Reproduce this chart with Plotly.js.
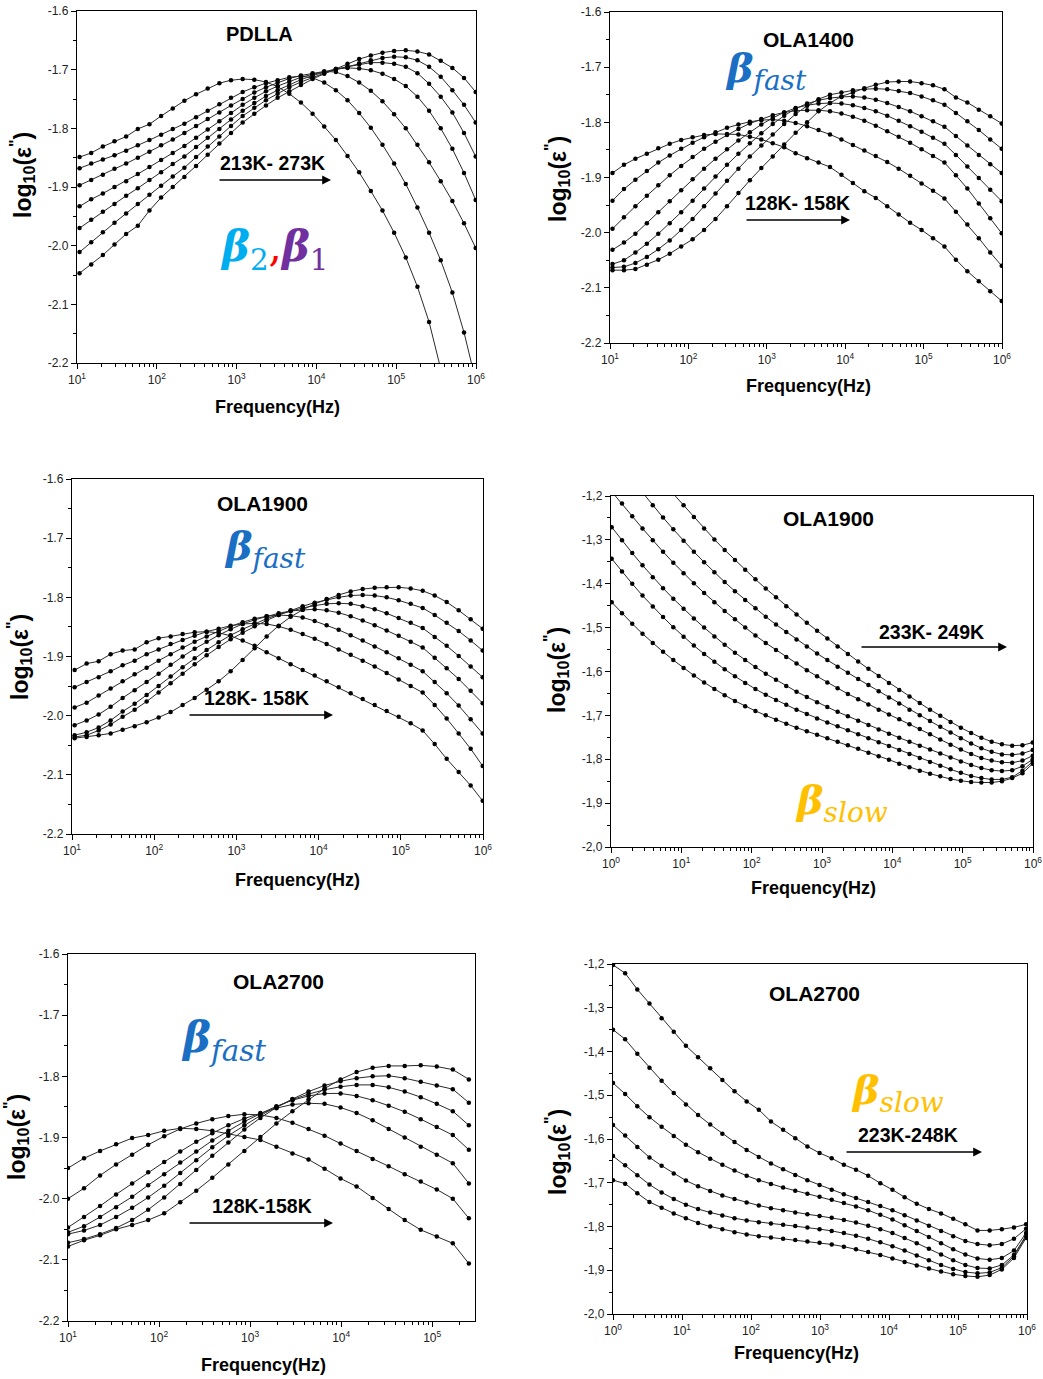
<!DOCTYPE html>
<html><head><meta charset="utf-8">
<script src="https://cdn.plot.ly/plotly-3.0.1.min.js"></script>
<style>html,body{margin:0;padding:0;background:#fff;}#chart{width:1043px;height:1379px;}</style>
</head><body><div id="chart"></div>
<script>
// ---------- frequencies (Hz) ----------
const freqA = [10.76,15.07,21.09,29.51,41.30,57.81,80.91,113.2,158.5,221.8,310.5,434.5,608.1,851.1,1191,1667,2333,3266,4571,6397,8954,12531,17539,24547,34356,48084,67298,94189,131826,184502,258226,361410,505825,707946,990832];
const freqB = [1.023,1.432,2.004,2.805,3.926,5.495,7.691,10.76,15.07,21.09,29.51,41.30,57.81,80.91,113.2,158.5,221.8,310.5,434.5,608.1,851.1,1191,1667,2333,3266,4571,6397,8954,12531,17539,24547,34356,48084,67298,94189,131826,184502,258226,361410,505825,707946,990832];
const freqC = [10,15,22.5,33.75,50.63,75.94,113.9,170.9,256.3,384.4,576.7,865,1297.5,1946,2919,4379,6568,9853,14780,22170,33250,49880,74820,112200,168300,252500];
const freqD = [1,1.5,2.25,3.375,5.063,7.594,11.39,17.09,25.63,38.44,57.67,86.5,129.7,194.6,291.9,437.9,656.8,985.3,1478,2217,3325,4988,7482,11223,16834,25251,37877,56815,85223,127834,191751,287627,431440,647160,970740];

// ---------- PDLLA (213K - 273K) ----------
const pdlla_213 = [-1.849,-1.842,-1.831,-1.822,-1.814,-1.801,-1.793,-1.779,-1.766,-1.753,-1.742,-1.732,-1.723,-1.718,-1.716,-1.717,-1.721,-1.729,-1.741,-1.756,-1.775,-1.797,-1.820,-1.847,-1.875,-1.907,-1.940,-1.978,-2.020,-2.070,-2.130,-2.210];
const pdlla_223 = [-1.868,-1.860,-1.853,-1.846,-1.838,-1.829,-1.820,-1.811,-1.801,-1.792,-1.781,-1.770,-1.759,-1.748,-1.738,-1.730,-1.723,-1.718,-1.713,-1.711,-1.714,-1.722,-1.735,-1.752,-1.774,-1.799,-1.828,-1.860,-1.895,-1.935,-1.978,-2.025,-2.080,-2.148,-2.230];
const pdlla_233 = [-1.897,-1.888,-1.879,-1.869,-1.860,-1.850,-1.840,-1.829,-1.819,-1.808,-1.796,-1.784,-1.773,-1.761,-1.750,-1.739,-1.730,-1.722,-1.715,-1.710,-1.706,-1.703,-1.704,-1.711,-1.722,-1.736,-1.754,-1.776,-1.800,-1.828,-1.858,-1.890,-1.924,-1.962,-2.004];
const pdlla_243 = [-1.933,-1.921,-1.911,-1.900,-1.890,-1.878,-1.866,-1.854,-1.842,-1.830,-1.816,-1.802,-1.788,-1.774,-1.760,-1.748,-1.737,-1.728,-1.720,-1.713,-1.708,-1.703,-1.699,-1.697,-1.698,-1.701,-1.707,-1.716,-1.728,-1.746,-1.770,-1.800,-1.835,-1.876,-1.922];
const pdlla_253 = [-1.970,-1.956,-1.942,-1.929,-1.915,-1.902,-1.888,-1.875,-1.861,-1.848,-1.832,-1.816,-1.801,-1.785,-1.770,-1.757,-1.745,-1.735,-1.726,-1.717,-1.710,-1.704,-1.699,-1.695,-1.691,-1.688,-1.688,-1.690,-1.695,-1.706,-1.724,-1.746,-1.773,-1.808,-1.848];
const pdlla_263 = [-2.011,-1.994,-1.977,-1.961,-1.945,-1.929,-1.913,-1.898,-1.882,-1.867,-1.849,-1.831,-1.814,-1.796,-1.779,-1.765,-1.752,-1.741,-1.730,-1.721,-1.713,-1.706,-1.700,-1.695,-1.689,-1.684,-1.680,-1.678,-1.679,-1.684,-1.695,-1.712,-1.735,-1.760,-1.790];
const pdlla_273 = [-2.047,-2.032,-2.016,-1.998,-1.980,-1.966,-1.940,-1.918,-1.900,-1.883,-1.864,-1.845,-1.826,-1.808,-1.790,-1.775,-1.761,-1.748,-1.737,-1.726,-1.716,-1.707,-1.699,-1.690,-1.682,-1.676,-1.671,-1.668,-1.667,-1.669,-1.674,-1.685,-1.697,-1.714,-1.738];

// ---------- OLA1400 fast (128K - 158K) ----------
const ola1400_128 = [-1.892,-1.877,-1.866,-1.857,-1.847,-1.839,-1.832,-1.827,-1.823,-1.821,-1.821,-1.822,-1.826,-1.831,-1.838,-1.845,-1.856,-1.865,-1.873,-1.881,-1.895,-1.910,-1.925,-1.937,-1.952,-1.967,-1.982,-1.995,-2.010,-2.025,-2.049,-2.070,-2.088,-2.106,-2.124];
const ola1400_133 = [-1.942,-1.921,-1.904,-1.888,-1.873,-1.860,-1.848,-1.837,-1.827,-1.818,-1.810,-1.804,-1.799,-1.796,-1.795,-1.797,-1.801,-1.807,-1.814,-1.822,-1.831,-1.841,-1.851,-1.861,-1.872,-1.884,-1.897,-1.911,-1.924,-1.938,-1.962,-1.985,-2.010,-2.036,-2.060];
const ola1400_138 = [-1.993,-1.972,-1.952,-1.933,-1.914,-1.896,-1.879,-1.863,-1.848,-1.835,-1.823,-1.812,-1.802,-1.794,-1.787,-1.782,-1.779,-1.778,-1.778,-1.780,-1.784,-1.790,-1.797,-1.806,-1.816,-1.826,-1.837,-1.849,-1.861,-1.873,-1.896,-1.920,-1.947,-1.974,-2.001];
const ola1400_143 = [-2.031,-2.018,-2.002,-1.983,-1.963,-1.943,-1.923,-1.903,-1.884,-1.866,-1.849,-1.833,-1.818,-1.804,-1.792,-1.782,-1.774,-1.769,-1.766,-1.765,-1.766,-1.769,-1.774,-1.780,-1.788,-1.797,-1.807,-1.817,-1.828,-1.839,-1.859,-1.880,-1.901,-1.922,-1.943];
const ola1400_148 = [-2.057,-2.050,-2.036,-2.020,-2.002,-1.983,-1.963,-1.942,-1.920,-1.898,-1.877,-1.857,-1.838,-1.820,-1.803,-1.788,-1.775,-1.766,-1.760,-1.756,-1.754,-1.753,-1.755,-1.759,-1.765,-1.772,-1.780,-1.789,-1.798,-1.808,-1.825,-1.842,-1.859,-1.876,-1.892];
const ola1400_153 = [-2.063,-2.062,-2.055,-2.044,-2.030,-2.014,-1.995,-1.975,-1.952,-1.929,-1.906,-1.884,-1.862,-1.842,-1.822,-1.803,-1.785,-1.770,-1.758,-1.750,-1.746,-1.742,-1.740,-1.739,-1.740,-1.743,-1.747,-1.753,-1.760,-1.768,-1.783,-1.798,-1.814,-1.831,-1.848];
const ola1400_158 = [-2.068,-2.068,-2.066,-2.058,-2.049,-2.038,-2.025,-2.012,-1.995,-1.975,-1.952,-1.928,-1.905,-1.883,-1.862,-1.840,-1.819,-1.800,-1.780,-1.765,-1.753,-1.746,-1.738,-1.732,-1.727,-1.726,-1.726,-1.729,-1.733,-1.740,-1.755,-1.764,-1.777,-1.789,-1.802];

// ---------- OLA1900 fast (128K - 158K) ----------
const ola1900f_128 = [-1.923,-1.912,-1.908,-1.896,-1.890,-1.888,-1.876,-1.869,-1.866,-1.862,-1.859,-1.858,-1.860,-1.865,-1.873,-1.882,-1.893,-1.903,-1.913,-1.923,-1.932,-1.942,-1.952,-1.962,-1.972,-1.982,-1.992,-2.002,-2.013,-2.025,-2.048,-2.073,-2.095,-2.118,-2.144];
const ola1900f_133 = [-1.952,-1.943,-1.935,-1.925,-1.915,-1.907,-1.896,-1.888,-1.879,-1.872,-1.865,-1.858,-1.853,-1.848,-1.845,-1.844,-1.845,-1.849,-1.855,-1.862,-1.870,-1.879,-1.888,-1.897,-1.907,-1.917,-1.928,-1.939,-1.950,-1.961,-1.982,-2.005,-2.030,-2.056,-2.085];
const ola1900f_138 = [-1.986,-1.978,-1.966,-1.954,-1.942,-1.930,-1.919,-1.907,-1.896,-1.885,-1.875,-1.866,-1.857,-1.849,-1.842,-1.836,-1.832,-1.830,-1.831,-1.834,-1.840,-1.847,-1.855,-1.864,-1.873,-1.883,-1.893,-1.903,-1.914,-1.925,-1.943,-1.962,-1.983,-2.006,-2.030];
const ola1900f_143 = [-2.016,-2.008,-1.998,-1.985,-1.970,-1.957,-1.943,-1.929,-1.914,-1.900,-1.887,-1.875,-1.864,-1.854,-1.845,-1.838,-1.832,-1.827,-1.823,-1.821,-1.820,-1.822,-1.826,-1.832,-1.839,-1.847,-1.856,-1.865,-1.875,-1.885,-1.902,-1.920,-1.938,-1.958,-1.979];
const ola1900f_148 = [-2.033,-2.028,-2.020,-2.008,-1.993,-1.980,-1.965,-1.950,-1.934,-1.918,-1.903,-1.889,-1.876,-1.864,-1.854,-1.845,-1.836,-1.829,-1.823,-1.818,-1.814,-1.811,-1.810,-1.811,-1.815,-1.820,-1.827,-1.835,-1.843,-1.852,-1.867,-1.882,-1.899,-1.917,-1.935];
const ola1900f_153 = [-2.036,-2.033,-2.025,-2.015,-2.002,-1.990,-1.976,-1.961,-1.945,-1.929,-1.913,-1.898,-1.884,-1.871,-1.860,-1.849,-1.839,-1.830,-1.822,-1.815,-1.809,-1.804,-1.800,-1.797,-1.796,-1.797,-1.800,-1.805,-1.811,-1.818,-1.830,-1.843,-1.857,-1.873,-1.890];
const ola1900f_158 = [-2.038,-2.036,-2.033,-2.030,-2.024,-2.018,-2.011,-2.003,-1.994,-1.982,-1.970,-1.956,-1.942,-1.925,-1.906,-1.886,-1.866,-1.848,-1.833,-1.821,-1.811,-1.803,-1.796,-1.790,-1.786,-1.784,-1.783,-1.783,-1.785,-1.789,-1.797,-1.808,-1.822,-1.837,-1.853];

// ---------- OLA1900 slow (233K - 249K) ----------
const ola1900s_1 = [-1.442,-1.467,-1.491,-1.514,-1.535,-1.555,-1.574,-1.592,-1.609,-1.625,-1.640,-1.654,-1.667,-1.679,-1.690,-1.700,-1.710,-1.719,-1.728,-1.736,-1.744,-1.752,-1.760,-1.768,-1.776,-1.785,-1.793,-1.801,-1.810,-1.818,-1.826,-1.833,-1.839,-1.845,-1.849,-1.852,-1.853,-1.853,-1.850,-1.843,-1.832,-1.810];
const ola1900s_2 = [-1.343,-1.372,-1.400,-1.427,-1.452,-1.476,-1.499,-1.521,-1.541,-1.560,-1.578,-1.595,-1.611,-1.626,-1.640,-1.653,-1.665,-1.676,-1.687,-1.697,-1.707,-1.716,-1.725,-1.734,-1.743,-1.752,-1.761,-1.770,-1.779,-1.788,-1.797,-1.806,-1.815,-1.823,-1.831,-1.838,-1.843,-1.846,-1.846,-1.841,-1.826,-1.805];
const ola1900s_3 = [-1.271,-1.301,-1.330,-1.358,-1.385,-1.410,-1.434,-1.457,-1.479,-1.500,-1.520,-1.539,-1.557,-1.574,-1.590,-1.605,-1.619,-1.633,-1.646,-1.658,-1.670,-1.681,-1.692,-1.702,-1.712,-1.722,-1.732,-1.742,-1.751,-1.760,-1.769,-1.778,-1.787,-1.796,-1.805,-1.813,-1.820,-1.825,-1.827,-1.825,-1.816,-1.800];
const ola1900s_4 = [-1.190,-1.217,-1.246,-1.274,-1.301,-1.327,-1.352,-1.376,-1.399,-1.421,-1.442,-1.462,-1.481,-1.500,-1.518,-1.535,-1.551,-1.567,-1.582,-1.597,-1.611,-1.625,-1.638,-1.651,-1.663,-1.675,-1.687,-1.698,-1.709,-1.720,-1.731,-1.743,-1.755,-1.767,-1.778,-1.788,-1.797,-1.803,-1.807,-1.808,-1.803,-1.792];
const ola1900s_5 = [null,null,null,-1.192,-1.221,-1.249,-1.276,-1.302,-1.327,-1.351,-1.374,-1.396,-1.417,-1.437,-1.456,-1.475,-1.493,-1.510,-1.527,-1.543,-1.559,-1.574,-1.589,-1.603,-1.617,-1.631,-1.645,-1.659,-1.673,-1.687,-1.700,-1.713,-1.726,-1.739,-1.752,-1.764,-1.775,-1.783,-1.789,-1.790,-1.787,-1.779];
const ola1900s_6 = [null,null,null,null,null,null,-1.195,-1.221,-1.248,-1.274,-1.299,-1.323,-1.346,-1.368,-1.390,-1.411,-1.431,-1.451,-1.470,-1.489,-1.507,-1.525,-1.543,-1.560,-1.577,-1.594,-1.610,-1.626,-1.642,-1.657,-1.672,-1.687,-1.701,-1.715,-1.728,-1.740,-1.751,-1.760,-1.766,-1.769,-1.768,-1.762];

// ---------- OLA2700 fast (128K - 158K) ----------
const ola2700f_128 = [-1.950,-1.934,-1.922,-1.911,-1.901,-1.896,-1.889,-1.885,-1.886,-1.889,-1.894,-1.899,-1.904,-1.915,-1.926,-1.936,-1.951,-1.967,-1.980,-1.999,-2.017,-2.035,-2.051,-2.062,-2.073,-2.106];
const ola2700f_133 = [-2.000,-1.983,-1.962,-1.944,-1.928,-1.912,-1.898,-1.886,-1.877,-1.870,-1.865,-1.862,-1.863,-1.868,-1.876,-1.886,-1.897,-1.910,-1.922,-1.935,-1.947,-1.960,-1.972,-1.985,-2.000,-2.032];
const ola2700f_138 = [-2.047,-2.030,-2.012,-1.993,-1.975,-1.957,-1.940,-1.923,-1.907,-1.893,-1.880,-1.869,-1.860,-1.852,-1.846,-1.844,-1.845,-1.851,-1.860,-1.872,-1.886,-1.900,-1.915,-1.928,-1.942,-1.975];
const ola2700f_143 = [-2.055,-2.045,-2.030,-2.014,-1.997,-1.978,-1.960,-1.941,-1.923,-1.905,-1.889,-1.874,-1.861,-1.849,-1.839,-1.832,-1.828,-1.828,-1.832,-1.839,-1.848,-1.858,-1.870,-1.883,-1.896,-1.920];
const ola2700f_148 = [-2.058,-2.052,-2.043,-2.030,-2.015,-1.998,-1.979,-1.958,-1.937,-1.916,-1.897,-1.880,-1.864,-1.850,-1.838,-1.829,-1.822,-1.817,-1.814,-1.814,-1.818,-1.825,-1.834,-1.845,-1.857,-1.880];
const ola2700f_153 = [-2.072,-2.066,-2.058,-2.048,-2.035,-2.018,-1.998,-1.976,-1.953,-1.930,-1.908,-1.887,-1.868,-1.851,-1.837,-1.825,-1.815,-1.808,-1.803,-1.800,-1.799,-1.803,-1.809,-1.815,-1.821,-1.843];
const ola2700f_158 = [-2.078,-2.068,-2.060,-2.050,-2.043,-2.035,-2.024,-2.006,-1.987,-1.966,-1.944,-1.922,-1.899,-1.877,-1.857,-1.838,-1.820,-1.805,-1.793,-1.786,-1.783,-1.783,-1.782,-1.784,-1.789,-1.805];

// ---------- OLA2700 slow (223K - 248K) ----------
const ola2700s_1 = [-1.694,-1.702,-1.724,-1.744,-1.757,-1.770,-1.781,-1.792,-1.800,-1.806,-1.813,-1.818,-1.822,-1.825,-1.828,-1.831,-1.834,-1.837,-1.841,-1.846,-1.852,-1.858,-1.865,-1.873,-1.881,-1.889,-1.896,-1.903,-1.909,-1.913,-1.915,-1.911,-1.898,-1.872,-1.826];
const ola2700s_2 = [-1.639,-1.660,-1.683,-1.704,-1.722,-1.737,-1.750,-1.760,-1.768,-1.775,-1.781,-1.786,-1.790,-1.793,-1.796,-1.799,-1.802,-1.806,-1.810,-1.815,-1.821,-1.828,-1.836,-1.845,-1.855,-1.866,-1.877,-1.888,-1.897,-1.904,-1.907,-1.905,-1.894,-1.868,-1.822];
const ola2700s_3 = [-1.568,-1.592,-1.618,-1.642,-1.661,-1.679,-1.695,-1.708,-1.719,-1.729,-1.737,-1.745,-1.752,-1.758,-1.763,-1.768,-1.772,-1.776,-1.780,-1.785,-1.791,-1.798,-1.806,-1.815,-1.826,-1.838,-1.851,-1.864,-1.877,-1.888,-1.895,-1.896,-1.888,-1.865,-1.820];
const ola2700s_4 = [-1.472,-1.497,-1.525,-1.550,-1.572,-1.593,-1.613,-1.630,-1.645,-1.659,-1.672,-1.684,-1.694,-1.703,-1.711,-1.718,-1.725,-1.732,-1.739,-1.746,-1.754,-1.763,-1.773,-1.784,-1.797,-1.810,-1.824,-1.838,-1.852,-1.864,-1.873,-1.876,-1.872,-1.855,-1.815];
const ola2700s_5 = [-1.350,-1.372,-1.405,-1.437,-1.467,-1.495,-1.521,-1.545,-1.567,-1.588,-1.607,-1.625,-1.641,-1.656,-1.669,-1.682,-1.694,-1.705,-1.716,-1.726,-1.735,-1.744,-1.753,-1.763,-1.774,-1.786,-1.798,-1.810,-1.822,-1.833,-1.840,-1.843,-1.840,-1.828,-1.805];
const ola2700s_6 = [-1.202,-1.221,-1.258,-1.290,-1.324,-1.355,-1.387,-1.413,-1.438,-1.465,-1.491,-1.514,-1.533,-1.560,-1.579,-1.598,-1.617,-1.632,-1.644,-1.659,-1.670,-1.684,-1.701,-1.716,-1.733,-1.748,-1.760,-1.770,-1.782,-1.795,-1.809,-1.809,-1.806,-1.802,-1.795];

// ---------- tick labels ----------
const yTicksFast = [-2.2,-2.1,-2.0,-1.9,-1.8,-1.7,-1.6];
const yTextFast = ['-2.2','-2.1','-2.0','-1.9','-1.8','-1.7','-1.6'];
const yTicksSlow = [-2.0,-1.9,-1.8,-1.7,-1.6,-1.5,-1.4,-1.3,-1.2];
const yTextSlow = ['-2,0','-1,9','-1,8','-1,7','-1,6','-1,5','-1,4','-1,3','-1,2'];

// ---------- layout helpers ----------
const W = 1043, H = 1379;
const FONT = 'Liberation Sans, Arial, sans-serif';
const px = v => v / W, py = v => 1 - v / H;

function minorLog(lo, hi) {
  const out = [];
  for (let d = Math.floor(lo); d <= Math.ceil(hi); d++) {
    for (let m = 2; m <= 9; m++) {
      const v = m * Math.pow(10, d), l = Math.log10(v);
      if (l > lo && l < hi) out.push(v);
    }
  }
  return out;
}
function minorLin(lo, hi) {
  const out = [];
  for (let v = lo + 0.05; v < hi - 0.01; v += 0.1) out.push(+v.toFixed(3));
  return out;
}
function xAxis(l, r, lo, hi, decs, anchor) {
  return {
    type: 'log', domain: [px(l), px(r)], range: [lo, hi], anchor: anchor,
    tickmode: 'array', tickvals: decs.map(d => Math.pow(10, d)),
    ticktext: decs.map(d => '10<sup>' + d + '</sup>'),
    ticks: 'outside', ticklen: 5, tickwidth: 1, tickcolor: '#000',
    showline: true, linecolor: '#000', linewidth: 1.2, mirror: true,
    showgrid: false, zeroline: false,
    tickfont: { family: FONT, size: 12, color: '#222' },
    minor: { tickmode: 'array', tickvals: minorLog(lo, hi), ticks: 'outside', ticklen: 3, tickcolor: '#000', showgrid: false }
  };
}
function yAxis(t, b, lo, hi, tv, tt, anchor) {
  return {
    domain: [py(b), py(t)], range: [lo, hi], anchor: anchor,
    tickmode: 'array', tickvals: tv, ticktext: tt,
    ticks: 'outside', ticklen: 5, tickwidth: 1, tickcolor: '#000',
    showline: true, linecolor: '#000', linewidth: 1.2, mirror: true,
    showgrid: false, zeroline: false,
    tickfont: { family: FONT, size: 12, color: '#222' },
    minor: { tickmode: 'array', tickvals: minorLin(lo, hi), ticks: 'outside', ticklen: 3, tickcolor: '#000', showgrid: false }
  };
}

const panels = [
  { xa: 'x',  ya: 'y',  f: freqA, s: [pdlla_213, pdlla_223, pdlla_233, pdlla_243, pdlla_253, pdlla_263, pdlla_273] },
  { xa: 'x2', ya: 'y2', f: freqA, s: [ola1400_128, ola1400_133, ola1400_138, ola1400_143, ola1400_148, ola1400_153, ola1400_158] },
  { xa: 'x3', ya: 'y3', f: freqA, s: [ola1900f_128, ola1900f_133, ola1900f_138, ola1900f_143, ola1900f_148, ola1900f_153, ola1900f_158] },
  { xa: 'x4', ya: 'y4', f: freqB, s: [ola1900s_1, ola1900s_2, ola1900s_3, ola1900s_4, ola1900s_5, ola1900s_6] },
  { xa: 'x5', ya: 'y5', f: freqC, s: [ola2700f_128, ola2700f_133, ola2700f_138, ola2700f_143, ola2700f_148, ola2700f_153, ola2700f_158] },
  { xa: 'x6', ya: 'y6', f: freqD, s: [ola2700s_1, ola2700s_2, ola2700s_3, ola2700s_4, ola2700s_5, ola2700s_6] }
];

const traces = [];
panels.forEach(p => {
  p.s.forEach(ys => {
    traces.push({
      type: 'scatter', mode: 'lines+markers', x: p.f.slice(0, ys.length), y: ys,
      xaxis: p.xa, yaxis: p.ya, showlegend: false, hoverinfo: 'skip',
      line: { color: '#2a2a2a', width: 1 },
      marker: { color: '#000', size: 4.5 }
    });
  });
});

function txt(x, y, text, size, color, extra) {
  return Object.assign({
    xref: 'paper', yref: 'paper', x: px(x), y: py(y), text: text, showarrow: false,
    xanchor: 'center', yanchor: 'middle',
    font: { family: FONT, size: size, color: color || '#000' }
  }, extra || {});
}
function arrow(x0, x1, y) {
  return {
    xref: 'paper', yref: 'paper', x: px(x1), y: py(y), ax: -(x1 - x0), ay: 0,
    axref: 'pixel', ayref: 'pixel', text: '', showarrow: true,
    arrowhead: 2, arrowsize: 1.1, arrowwidth: 1.6, arrowcolor: '#000'
  };
}
const YT = 'log<sub>10</sub>(ε<sup>"</sup>)';
const XT = '<b>Frequency(Hz)</b>';
const BF = 'DejaVu Serif, serif';
function beta(x, y, sub, color, size) {
  return {
    xref: 'paper', yref: 'paper', x: px(x), y: py(y), showarrow: false,
    xanchor: 'center', yanchor: 'middle',
    text: '<b><i>β</i></b><sub><i>' + sub + '</i></sub>',
    font: { family: BF, size: size, color: color }
  };
}

const TS = 19.5, OS = 21, YS = 23, XS = 18;
const ann = [
  // PDLLA
  txt(259, 34, '<b>PDLLA</b>', 20),
  txt(272, 163, '<b>213K- 273K</b>', TS),
  arrow(218, 331, 180),
  {
    xref: 'paper', yref: 'paper', x: px(274), y: py(250), showarrow: false, xanchor: 'center', yanchor: 'middle',
    text: '<span style="color:#00aeef"><b><i>β</i></b><sub>2</sub></span><span style="color:#ff0000">,</span><span style="color:#7030a0"><b><i>β</i></b><sub>1</sub></span>',
    font: { family: BF, size: 42, color: '#00aeef' }
  },
  txt(22, 175, '<b>' + YT + '</b>', YS, '#000', { textangle: -90 }),
  txt(277, 407, XT, XS),
  // OLA1400
  txt(808, 39, '<b>OLA1400</b>', OS),
  beta(766, 70, 'fast', '#1a6fc4', 40),
  txt(797, 203, '<b>128K- 158K</b>', TS),
  arrow(745, 850, 220),
  txt(557, 179, '<b>' + YT + '</b>', YS, '#000', { textangle: -90 }),
  txt(808, 386, XT, XS),
  // OLA1900 fast
  txt(262, 503, '<b>OLA1900</b>', OS),
  beta(265, 548, 'fast', '#1a6fc4', 40),
  txt(256, 698, '<b>128K- 158K</b>', TS),
  arrow(188, 333, 715),
  txt(19, 657, '<b>' + YT + '</b>', YS, '#000', { textangle: -90 }),
  txt(297, 880, XT, XS),
  // OLA1900 slow
  txt(828, 518, '<b>OLA1900</b>', OS),
  txt(931, 632, '<b>233K- 249K</b>', TS),
  arrow(860, 1007, 647),
  beta(841, 803, 'slow', '#ffc000', 40),
  txt(556, 670, '<b>' + YT + '</b>', YS, '#000', { textangle: -90 }),
  txt(813, 888, XT, XS),
  // OLA2700 fast
  txt(278, 981, '<b>OLA2700</b>', OS),
  beta(223, 1040, 'fast', '#1a6fc4', 42),
  txt(262, 1206, '<b>128K-158K</b>', TS),
  arrow(188, 333, 1223),
  txt(16, 1137, '<b>' + YT + '</b>', YS, '#000', { textangle: -90 }),
  txt(263, 1365, XT, XS),
  // OLA2700 slow
  txt(814, 993, '<b>OLA2700</b>', OS),
  beta(897, 1092, 'slow', '#ffc000', 40),
  txt(908, 1135, '<b>223K-248K</b>', TS),
  arrow(845, 982, 1152),
  txt(557, 1152, '<b>' + YT + '</b>', YS, '#000', { textangle: -90 }),
  txt(796, 1353, XT, XS)
];

const layout = {
  width: W, height: H, margin: { l: 0, r: 0, t: 0, b: 0 },
  paper_bgcolor: '#fff', plot_bgcolor: '#fff', showlegend: false,
  font: { family: FONT },
  xaxis:  xAxis(77, 476, 1, 6, [1,2,3,4,5,6], 'y'),
  yaxis:  yAxis(11, 363, -2.2, -1.6, yTicksFast, yTextFast, 'x'),
  xaxis2: xAxis(610, 1002, 1, 6, [1,2,3,4,5,6], 'y2'),
  yaxis2: yAxis(12, 343, -2.2, -1.6, yTicksFast, yTextFast, 'x2'),
  xaxis3: xAxis(72, 483, 1, 6, [1,2,3,4,5,6], 'y3'),
  yaxis3: yAxis(479, 834, -2.2, -1.6, yTicksFast, yTextFast, 'x3'),
  xaxis4: xAxis(611, 1033, 0, 6, [0,1,2,3,4,5,6], 'y4'),
  yaxis4: yAxis(496, 847, -2.0, -1.2, yTicksSlow, yTextSlow, 'x4'),
  xaxis5: xAxis(68, 475, 1, 5.47, [1,2,3,4,5], 'y5'),
  yaxis5: yAxis(954, 1321, -2.2, -1.6, yTicksFast, yTextFast, 'x5'),
  xaxis6: xAxis(613, 1027, 0, 6, [0,1,2,3,4,5,6], 'y6'),
  yaxis6: yAxis(964, 1314, -2.0, -1.2, yTicksSlow, yTextSlow, 'x6'),
  annotations: ann
};

Plotly.newPlot('chart', traces, layout, { displayModeBar: false, staticPlot: true });
</script></body></html>
